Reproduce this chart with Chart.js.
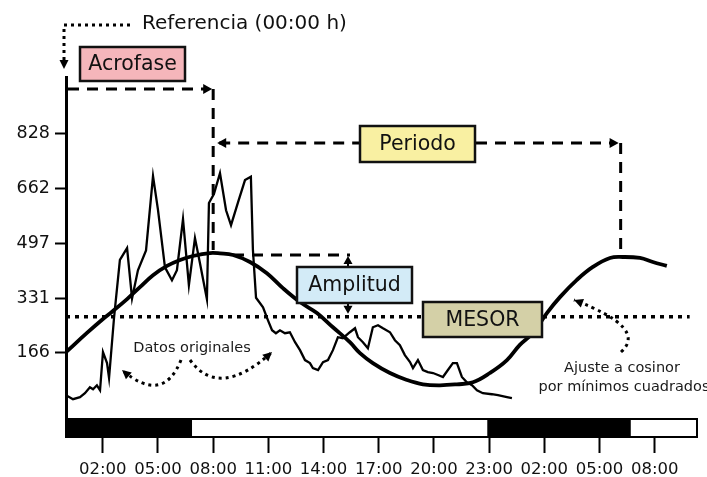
<!DOCTYPE html>
<html>
<head>
<meta charset="utf-8">
<script src="https://cdn.jsdelivr.net/npm/chart.js@4.4.1/dist/chart.umd.min.js"></script>
<style>
  html, body { margin: 0; padding: 0; background: #fff; }
  #wrap { width: 707px; height: 477px; }
</style>
</head>
<body>
<div id="wrap"><canvas id="chart" width="707" height="477"></canvas></div>
<script>
// horas desde la referencia (00:00 h)
const rawHours = [0, 0.38, 0.76, 1.03, 1.30, 1.47, 1.68, 1.85, 2.01, 2.23, 2.34, 2.61, 2.93, 3.32, 3.59, 3.91,
    4.35, 4.73, 5.00, 5.38, 5.76, 6.03, 6.36, 6.68, 7.01, 7.28, 7.66, 7.77, 8.04, 8.37, 8.70, 8.97, 9.35, 9.73,
    10.05, 10.16, 10.33, 10.71, 10.98, 11.20, 11.41, 11.63, 11.90, 12.17, 12.45, 12.72, 12.99, 13.26, 13.42,
    13.70, 13.97, 14.24, 14.51, 14.78, 15.05, 15.43, 15.71, 15.87, 16.14, 16.41, 16.68, 16.96, 17.23, 17.61,
    17.88, 18.15, 18.42, 18.70, 18.86, 19.13, 19.40, 19.67, 19.95, 20.22, 20.49, 20.76, 21.03, 21.25, 21.52,
    21.79, 22.07, 22.34, 22.66, 23.15, 23.48, 23.97, 24.24];
const rawValues = [38, 26, 32, 44, 62, 56, 68, 53, 168, 135, 90, 271, 446, 482, 330, 415,
    475, 699, 597, 424, 385, 415, 569, 370, 512, 437, 328, 618, 645, 708, 596, 551, 620, 687,
    697, 477, 332, 303, 264, 234, 225, 234, 225, 228, 198, 174, 144, 135, 120,
    114, 138, 144, 174, 213, 210, 228, 240, 213, 198, 180, 243, 249, 240, 228,
    204, 189, 159, 138, 120, 144, 114, 108, 105, 99, 93, 114, 135, 135, 93,
    77, 68, 53, 44, 41, 38, 32, 29];

// ajuste a cosinor
const fitHours = [0, 1.14, 2.01, 2.55, 3.32, 4.02, 4.73, 5.49, 6.20, 6.90, 7.83, 8.37, 9.08, 10.0, 10.92,
    11.79, 12.72, 13.64, 14.51, 15.43, 15.98, 16.68, 17.61, 18.53, 19.40, 20.33, 21.25, 22.12, 23.04, 23.97,
    24.67, 25.38, 26.14, 26.85, 27.77, 28.64, 29.57, 30.27, 31.20, 31.90, 32.66];
const fitValues = [168, 226, 268, 292, 328, 364, 400, 428, 446, 458, 467, 466, 461, 440, 406,
    361, 319, 286, 243, 198, 165, 135, 105, 84, 71, 68, 71, 77, 105, 144,
    190, 226, 286, 334, 386, 425, 452, 455, 452, 440, 428];

const mesorValue = 275;
const mesorHours = [0, 33.9];

const tickHours = [2, 5, 8, 11, 14, 17, 20, 23, 26, 29, 32];
const tickLabels = ['02:00', '05:00', '08:00', '11:00', '14:00', '17:00', '20:00', '23:00', '02:00', '05:00', '08:00'];
const yTickValues = [166, 331, 497, 662, 828];

const darkPeriods = [[0, 6.85], [22.9, 30.7]];
const barEnd = 34.3;

const acroHour = 8.0;
const periodEndHour = 30.15;
const peakValue = 467;

const FONT = '"DejaVu Sans", Verdana, sans-serif';

function head(ctx, x, y, angle, len = 9, half = 4.5) {
    ctx.save();
    ctx.translate(x, y);
    ctx.rotate(angle);
    ctx.beginPath();
    ctx.moveTo(0, 0);
    ctx.lineTo(-len, -half);
    ctx.lineTo(-len, half);
    ctx.closePath();
    ctx.fill();
    ctx.restore();
}

function line(ctx, pts, dash, width) {
    ctx.save();
    ctx.setLineDash(dash);
    ctx.lineWidth = width;
    ctx.beginPath();
    ctx.moveTo(pts[0][0], pts[0][1]);
    for (let i = 1; i < pts.length; i++) ctx.lineTo(pts[i][0], pts[i][1]);
    ctx.stroke();
    ctx.restore();
}

function curve(ctx, x0, y0, cx, cy, x1, y1) {
    ctx.save();
    ctx.setLineDash([3, 4]);
    ctx.lineWidth = 3;
    ctx.beginPath();
    ctx.moveTo(x0, y0);
    ctx.quadraticCurveTo(cx, cy, x1, y1);
    ctx.stroke();
    ctx.restore();
    head(ctx, x1, y1, Math.atan2(y1 - cy, x1 - cx), 9, 4.5);
}

function box(ctx, text, x0, y0, x1, y1, fill) {
    ctx.save();
    ctx.fillStyle = fill;
    ctx.fillRect(x0, y0, x1 - x0, y1 - y0);
    ctx.lineWidth = 2.5;
    ctx.strokeStyle = '#111';
    ctx.strokeRect(x0, y0, x1 - x0, y1 - y0);
    ctx.fillStyle = '#111';
    ctx.font = '20.5px ' + FONT;
    ctx.textAlign = 'center';
    ctx.textBaseline = 'middle';
    ctx.fillText(text, (x0 + x1) / 2, (y0 + y1) / 2 + 1);
    ctx.restore();
}

const overlay = {
    id: 'overlay',
    afterDatasetsDraw(chart) {
        const ctx = chart.ctx;
        const xs = chart.scales.x, ys = chart.scales.y;
        const area = chart.chartArea;
        const px = v => xs.getPixelForValue(v);
        const py = v => ys.getPixelForValue(v);

        ctx.save();
        ctx.strokeStyle = '#000';
        ctx.fillStyle = '#000';

        // barra luz / oscuridad
        const barTop = area.bottom - 18;
        ctx.fillStyle = '#fff';
        ctx.fillRect(px(0), barTop, px(barEnd) - px(0), area.bottom - barTop);
        ctx.fillStyle = '#000';
        darkPeriods.forEach(([a, b]) => ctx.fillRect(px(a), barTop, px(b) - px(a), area.bottom - barTop));
        ctx.lineWidth = 2;
        ctx.strokeRect(px(0), barTop, px(barEnd) - px(0), area.bottom - barTop);

        // referencia
        line(ctx, [[130, 25], [64, 25], [64, 60]], [3, 4], 3);
        head(ctx, 64, 69, Math.PI / 2, 9, 4.5);
        ctx.font = '20px ' + FONT;
        ctx.textAlign = 'left';
        ctx.textBaseline = 'middle';
        ctx.fillStyle = '#111';
        ctx.fillText('Referencia (00:00 h)', 142, 24);
        ctx.fillStyle = '#000';

        // acrofase
        const ax = px(acroHour), peakY = py(peakValue);
        line(ctx, [[68, 89], [ax - 6, 89]], [11, 8], 3);
        head(ctx, ax - 1, 89, 0, 9, 5);
        line(ctx, [[ax, 89], [ax, peakY - 3]], [11, 8], 3);
        box(ctx, 'Acrofase', 80, 47, 185, 81, '#f5b6bb');

        // periodo
        const pxEnd = px(periodEndHour);
        line(ctx, [[ax + 6, 143], [360, 143]], [11, 8], 3);
        head(ctx, ax + 4, 143, Math.PI, 9, 5);
        line(ctx, [[476, 143], [pxEnd - 6, 143]], [11, 8], 3);
        head(ctx, pxEnd - 2, 143, 0, 9, 5);
        line(ctx, [[pxEnd, 143], [pxEnd, py(455) - 8]], [11, 8], 3);
        box(ctx, 'Periodo', 360, 126, 475, 162, '#f9f0a2');

        // amplitud
        line(ctx, [[233, peakY + 2], [350, peakY + 2]], [11, 8], 3);
        line(ctx, [[348, 267], [348, peakY + 6]], [], 2);
        head(ctx, 348, peakY + 3, -Math.PI / 2, 8, 4.5);
        line(ctx, [[348, 303], [348, 308]], [], 2);
        head(ctx, 348, py(mesorValue) - 3, Math.PI / 2, 8, 4.5);
        box(ctx, 'Amplitud', 297, 267, 412, 303, '#d3ebf7');

        // mesor
        box(ctx, 'MESOR', 423, 302, 542, 337, '#d4d0a7');

        // datos originales
        ctx.fillStyle = '#1a1a1a';
        ctx.font = '14.5px ' + FONT;
        ctx.textAlign = 'center';
        ctx.textBaseline = 'middle';
        ctx.fillText('Datos originales', 192, 348);
        ctx.fillStyle = '#000';
        curve(ctx, 181, 360, 163, 405, 122, 370);
        curve(ctx, 190, 360, 219, 400, 272, 352);

        // ajuste a cosinor
        ctx.fillStyle = '#1a1a1a';
        ctx.fillText('Ajuste a cosinor', 622, 368);
        ctx.fillText('por mínimos cuadrados', 624, 387);
        ctx.fillStyle = '#000';
        curve(ctx, 621, 352, 648, 328, 574, 300);

        ctx.restore();
    }
};

new Chart(document.getElementById('chart'), {
    type: 'line',
    data: {
        datasets: [
            {
                label: 'Datos originales',
                data: rawHours.map((h, i) => ({ x: h, y: rawValues[i] })),
                borderColor: '#000',
                borderWidth: 2.3,
                pointRadius: 0,
                tension: 0
            },
            {
                label: 'Ajuste a cosinor',
                data: fitHours.map((h, i) => ({ x: h, y: fitValues[i] })),
                borderColor: '#000',
                borderWidth: 3.8,
                pointRadius: 0,
                tension: 0.4
            },
            {
                label: 'MESOR',
                data: mesorHours.map(h => ({ x: h, y: mesorValue })),
                borderColor: '#000',
                borderWidth: 3.5,
                borderDash: [4, 5],
                pointRadius: 0
            }
        ]
    },
    options: {
        responsive: false,
        animation: false,
        devicePixelRatio: 1,
        layout: { padding: { top: 77, right: 10, left: 0, bottom: 0 } },
        plugins: { legend: { display: false }, tooltip: { enabled: false } },
        scales: {
            x: {
                type: 'linear',
                min: 0,
                max: barEnd,
                afterBuildTicks: s => { s.ticks = tickHours.map(v => ({ value: v })); },
                afterFit: s => { s.height = 40; },
                ticks: {
                    autoSkip: false,
                    maxRotation: 0,
                    padding: 7,
                    color: '#111',
                    font: { family: FONT, size: 16.5 },
                    callback: v => tickLabels[tickHours.indexOf(v)]
                },
                grid: { drawOnChartArea: false, tickLength: 16, tickWidth: 2, tickColor: '#000' },
                border: { display: false }
            },
            y: {
                min: -88,
                max: 998,
                afterBuildTicks: s => { s.ticks = yTickValues.map(v => ({ value: v })); },
                afterFit: s => { s.width = 66; },
                ticks: {
                    padding: 5,
                    color: '#111',
                    font: { family: FONT, size: 17.5 },
                    callback: v => String(v)
                },
                grid: { drawOnChartArea: false, tickLength: 11, tickWidth: 2, tickColor: '#000' },
                border: { display: true, color: '#000', width: 3 }
            }
        }
    },
    plugins: [overlay]
});
</script>
</body>
</html>
